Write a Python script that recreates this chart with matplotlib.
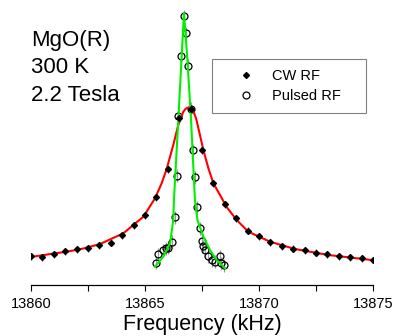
import numpy as np
import matplotlib
matplotlib.use("Agg")
import matplotlib.pyplot as plt
from matplotlib.lines import Line2D

plt.rcParams['font.family'] = ['Liberation Sans', 'DejaVu Sans']

# ---------------- data (signal in arbitrary units) ----------------
# CW RF points
cw_freq = [13860.0, 13860.5, 13861.0, 13861.5, 13862.0, 13862.5, 13863.0, 13863.5,
           13864.0, 13864.5, 13865.0, 13865.5, 13866.0, 13866.5, 13867.0, 13867.5,
           13868.0, 13868.5, 13869.0, 13869.5, 13870.0, 13870.5, 13871.0, 13871.5,
           13872.0, 13872.5, 13873.0, 13873.5, 13874.0, 13874.5, 13875.0]
cw_signal = [9.0, 7.7, 11.0, 13.7, 15.7, 16.7, 19.7, 22.3,
             29.7, 40.0, 50.0, 67.7, 95.7, 147.0, 156.3, 115.0,
             81.7, 61.0, 46.7, 34.5, 28.7, 23.0, 19.0, 16.3,
             15.0, 12.3, 10.7, 9.0, 7.7, 7.0, 5.0]

# Pulsed RF points
pulsed_freq = [13865.48, 13865.58, 13865.78, 13865.92, 13866.02, 13866.20, 13866.32,
               13866.39, 13866.46, 13866.58, 13866.71, 13866.80, 13866.90, 13867.00,
               13867.09, 13867.19, 13867.29, 13867.41, 13867.49, 13867.56, 13867.63,
               13867.78, 13867.93, 13868.07, 13868.29, 13868.33, 13868.46]
pulsed_signal = [2.3, 11.0, 15.0, 16.7, 17.3, 23.3, 47.7,
                 89.3, 149.3, 209.0, 249.0, 231.7, 199.3, 156.3,
                 115.0, 87.7, 58.0, 36.7, 24.3, 19.0, 15.0,
                 9.0, 5.0, 3.3, 9.0, 1.7, 0.0]

# fit curves
cw_fit_freq = [13860.0, 13861.0, 13861.57, 13862.3, 13863.03, 13864.05, 13864.93,
               13865.44, 13865.73, 13865.95, 13866.24, 13866.46, 13866.68, 13866.77,
               13866.86, 13866.96, 13867.05, 13867.15, 13867.24, 13867.41, 13867.56,
               13867.78, 13868.0, 13868.29, 13868.58, 13869.02, 13869.53, 13870.48,
               13871.58, 13873.04, 13874.94]
cw_fit_signal = [8.0, 11.5, 13.3, 16.5, 21.0, 31.7, 48.3,
                 66.7, 81.7, 96.0, 120.0, 140.0, 153.3, 156.0,
                 157.3, 157.5, 156.0, 152.0, 146.7, 130.0, 115.0,
                 96.7, 81.7, 70.0, 58.0, 45.0, 33.3, 23.3,
                 16.0, 10.0, 5.0]

pulsed_fit_freq = [13865.44, 13865.80, 13866.10, 13866.24, 13866.27, 13866.46, 13866.60,
                   13866.71, 13866.86, 13867.02, 13867.19, 13867.30, 13867.56, 13867.85,
                   13868.14, 13868.51]
pulsed_fit_signal = [-1.7, 8.3, 21.7, 45.0, 65.0, 145.0, 205.0,
                     252.0, 205.0, 145.0, 65.0, 45.0, 28.3, 15.0,
                     5.0, -3.3]

x_ticks = [13860, 13862.5, 13865, 13867.5, 13870, 13872.5, 13875]
x_labels = ['13860', '', '13865', '', '13870', '', '13875']

# ---------------- plot ----------------
fig = plt.figure(figsize=(3.95, 3.36), dpi=100)
ax = fig.add_axes([31 / 395, 51 / 336, 342 / 395, 285 / 336])

ax.errorbar(pulsed_freq, pulsed_signal, yerr=6.5, fmt='none', ecolor='#999999',
            elinewidth=0.9, zorder=1)
ax.errorbar(cw_freq, cw_signal, yerr=3.5, fmt='none', ecolor='#404040',
            elinewidth=0.8, zorder=1)
ax.plot(pulsed_freq, pulsed_signal, 'o', ms=5, mfc='none', mec='black',
        mew=0.9, zorder=2)
ax.plot(cw_fit_freq, cw_fit_signal, color='#ff0000', lw=1.5, zorder=3)
ax.plot(pulsed_fit_freq, pulsed_fit_signal, color='#00f000', lw=1.5, zorder=3)
ax.plot(cw_freq, cw_signal, 'D', ms=3, color='black', zorder=4)

ax.set_xlim(13860, 13875)
ax.set_ylim(-20, 265)
ax.set_xticks(x_ticks)
ax.set_xticklabels(x_labels, fontsize=10.5)
ax.tick_params(axis='x', length=4.5, width=0.8, pad=4.5)
ax.set_yticks([])
for s in ['left', 'right', 'top']:
    ax.spines[s].set_visible(False)
ax.spines['bottom'].set_linewidth(0.9)
ax.set_xlabel('Frequency (kHz)', fontsize=15.5, labelpad=1.5)

ax.text(0.0, 0.895, 'MgO(R)\n300 K\n2.2 Tesla', transform=ax.transAxes,
        fontsize=16, va='top', ha='left', linespacing=1.4)

handles = [Line2D([], [], marker='D', ls='none', color='black', ms=3),
           Line2D([], [], marker='o', ls='none', mfc='none', mec='black', ms=5, mew=0.9)]
leg = ax.legend(handles, ['CW RF', 'Pulsed RF'], loc='upper left',
                bbox_to_anchor=(0.528, 0.6025, 0.451, 0.19), mode='expand',
                borderaxespad=0, fontsize=10.5, borderpad=0.65, handlelength=3.4,
                handletextpad=0.1, labelspacing=0.45, fancybox=False, framealpha=1)
leg.get_frame().set_edgecolor('#808080')
leg.get_frame().set_linewidth(0.8)

fig.savefig('out.png', dpi=100)
